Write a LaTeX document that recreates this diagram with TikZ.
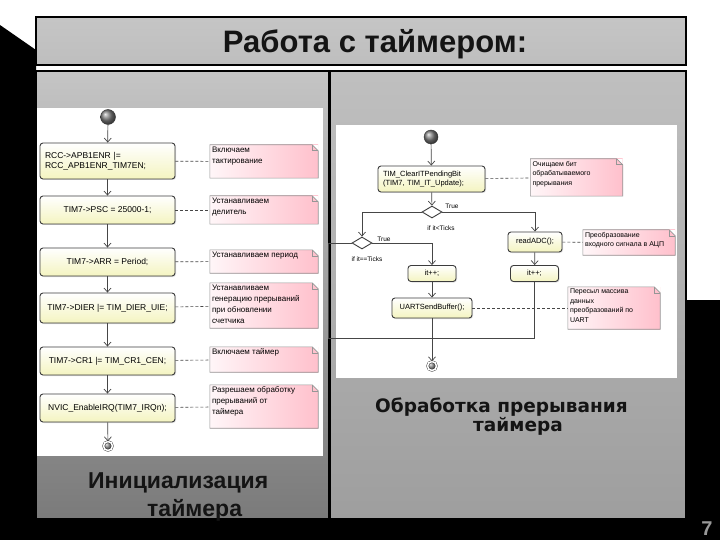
\documentclass[tikz,border=0pt]{standalone}
\usepackage{fontspec}
\setmainfont{Liberation Sans}
\newfontfamily\capfont{DejaVu Sans}
\usepackage{tikz}
\usetikzlibrary{positioning, shapes.geometric, arrows.meta, shadows}
\definecolor{boxline}{RGB}{60,60,60}
\definecolor{boxyellow}{RGB}{244,244,192}
\definecolor{notepink}{RGB}{255,192,204}
\definecolor{notelight}{RGB}{255,246,248}
\definecolor{noteline}{RGB}{150,150,150}
\definecolor{flowgray}{RGB}{70,70,70}
\definecolor{titlegray}{RGB}{200,200,200}
\definecolor{captext}{RGB}{20,20,20}

\begin{document}
\begin{tikzpicture}[
    x=1pt, y=-1pt,
    frame/.style={draw=black, line width=2.2pt},
    box/.style={rectangle, rounded corners=3pt, draw=boxline, line width=0.9pt, top color=white, bottom color=boxyellow, inner xsep=5pt, inner ysep=2pt, font=\fontsize{8.5}{10}\selectfont, drop shadow={shadow xshift=1pt, shadow yshift=-1pt, opacity=0.25}},
    smallbox/.style={box, font=\fontsize{7.5}{9}\selectfont},
    lnote/.style={rectangle, left color=notelight, right color=notepink, inner sep=2pt, font=\fontsize{8}{11}\selectfont,
        execute at begin node={\begin{minipage}[c][#1][t]{104pt}\raggedright}, execute at end node={\end{minipage}}},
    rnote/.style={rectangle, left color=notelight, right color=notepink, inner sep=2pt, font=\fontsize{7}{9.5}\selectfont,
        execute at begin node={\begin{minipage}[c][#1][t]{88pt}\raggedright}, execute at end node={\end{minipage}}},
    startdot/.style={circle, minimum size=15pt, inner sep=0pt, ball color=black!50, draw=black!80},
    enddot/.style={circle, minimum size=9pt, inner sep=0pt, ball color=black!50, draw=black!80, double=white, double distance=1.6pt},
    decision/.style={diamond, draw=boxline, line width=0.9pt, fill=white, minimum width=20pt, minimum height=12pt, inner sep=0pt},
    flow/.style={draw=flowgray, line width=0.7pt, -{Straight Barb[length=4pt, width=7pt]}},
    wire/.style={draw=flowgray, line width=0.7pt},
    link/.style={draw=flowgray, line width=0.6pt, dash pattern=on 3pt off 2pt},
    guard/.style={font=\fontsize{6.5}{8}\selectfont, inner sep=0pt},
    caption/.style={text=captext, inner sep=0pt, align=left}
]
    \useasboundingbox (0,0) rectangle (720,540);
    \fill[white] (0,0) rectangle (720,540);

    % Slide background and frames
    \fill[black] (0,25) -- (36,50) -- (36,519) -- (686,519) -- (686,300) -- (720,300) -- (720,540) -- (0,540) -- cycle;
    \draw[frame, top color=titlegray!105, bottom color=titlegray!95!black] (36,17) rectangle (686,65);
    \draw[frame, top color=black!23, bottom color=black!52] (36,71) rectangle (329,519);
    \draw[frame, top color=black!25, bottom color=black!38] (330,71) rectangle (686,519);
    \fill[white] (37,108) rectangle (323,456);
    \fill[white] (336,125) rectangle (677,378);

    \node[anchor=base, text=captext, font=\bfseries\fontsize{31}{36}\selectfont] (title) at (375,53) {Работа с таймером:};

    % Timer initialisation
    \node[startdot] (lstart) at (108,117) {};
    \node[box, text width=125pt, align=left, minimum height=36pt] (rcc) at (107.5,161) {RCC->APB1ENR |=\\RCC\_APB1ENR\_TIM7EN;};
    \node[box, minimum width=135pt, minimum height=28pt] (psc) at (107.5,210) {TIM7->PSC = 25000-1;};
    \node[box, minimum width=135pt, minimum height=28pt] (arr) at (107.5,262) {TIM7->ARR = Period;};
    \node[box, minimum width=135pt, minimum height=30pt] (dier) at (107.5,308) {TIM7->DIER |= TIM\_DIER\_UIE;};
    \node[box, minimum width=135pt, minimum height=28pt] (cr1) at (107.5,361) {TIM7->CR1 |= TIM\_CR1\_CEN;};
    \node[box, minimum width=135pt, minimum height=28pt] (nvic) at (107.5,408) {NVIC\_EnableIRQ(TIM7\_IRQn);};
    \node[enddot] (lend) at (108,446) {};

    \node[lnote=29pt] (nrcc) at (264,161.5) {Включаем\\тактирование};
    \node[lnote=24pt] (npsc) at (264,210) {Устанавливаем\\делитель};
    \node[lnote=19pt] (narr) at (264,261.5) {Устанавливаем период};
    \node[lnote=41pt] (ndier) at (264,305.5) {Устанавливаем\\генерацию прерываний\\при обновлении\\счетчика};
    \node[lnote=21pt] (ncr1) at (264,359.5) {Включаем таймер};
    \node[lnote=39pt] (nnvic) at (264,406.5) {Разрешаем обработку\\прерываний от\\таймера};

    \foreach \a/\b in {lstart/rcc, rcc/psc, psc/arr, arr/dier, dier/cr1, cr1/nvic, nvic/lend}
        \draw[flow] (\a) -- (\b);
    \foreach \a/\b in {rcc/nrcc, psc/npsc, arr/narr, dier/ndier, cr1/ncr1, nvic/nnvic}
        \draw[link] (\a) -- (\b);

    % Interrupt handler
    \node[startdot, minimum size=14pt] (rstart) at (431,137) {};
    \node[smallbox, text width=97pt, align=left, minimum height=26pt] (clear) at (431.5,179) {TIM\_ClearITPendingBit\\(TIM7, TIM\_IT\_Update);};
    \node[rnote=33pt] (nclear) at (576.5,177.5) {Очищаем бит\\обрабатываемого\\прерывания};
    \node[decision] (ifa) at (432,212) {};
    \node[decision] (ifb) at (362,243) {};
    \node[smallbox, minimum width=54pt, minimum height=20pt] (adc) at (535,242) {readADC();};
    \node[rnote=21pt] (nadc) at (629,242.5) {Преобразование\\входного сигнала в АЦП};
    \node[smallbox, minimum width=48pt, minimum height=16pt] (incl) at (432,273.5) {it++;};
    \node[smallbox, minimum width=48pt, minimum height=16pt] (incr) at (534.5,273.5) {it++;};
    \node[smallbox, minimum width=80pt, minimum height=20pt] (send) at (432,308) {UARTSendBuffer();};
    \node[rnote=38pt] (nsend) at (614,308) {Пересыл массива\\данных\\преобразований по\\UART};
    \node[enddot] (rend) at (432,366) {};
    \coordinate (merge) at (432,338);

    \node[guard] (truea) at (452,206) {True};
    \node[guard] (guarda) at (441,228) {if it<Ticks};
    \node[guard] (trueb) at (384,239) {True};
    \node[guard] (guardb) at (367,259) {if it==Ticks};

    \draw[flow] (rstart) -- (clear);
    \draw[flow] (clear) -- (ifa);
    \draw[flow] (ifa.east) -| (adc.north);
    \draw[flow] (ifa.west) -| (ifb.north);
    \draw[flow] (ifb.east) -| (incl.north);
    \draw[flow] (adc) -- (incr);
    \draw[flow] (incl) -- (send);
    \draw[wire] (ifb.west) -- ++(-23,0) |- (merge);
    \draw[wire] (incr.south) |- (merge);
    \draw[wire] (send) -- (merge);
    \draw[flow] (merge) -- (rend);
    \draw[link] (clear) -- (nclear);
    \draw[link] (adc) -- (nadc);
    \draw[link] (send) -- (nsend);

    % Folded note corners
    \foreach \n in {nrcc, npsc, narr, ndier, ncr1, nnvic, nclear, nadc, nsend} {
        \fill[white] ([xshift=-6pt]\n.north east) -- (\n.north east) -- ([yshift=-6pt]\n.north east) -- cycle;
        \draw[noteline, line width=0.6pt] (\n.north west) -- ([xshift=-6pt]\n.north east) -- ([yshift=-6pt]\n.north east) -- (\n.south east) -- (\n.south west) -- cycle;
        \draw[noteline, line width=0.6pt] ([xshift=-6pt]\n.north east) -- ([xshift=-6pt,yshift=-6pt]\n.north east) -- ([yshift=-6pt]\n.north east);
    }

    % Captions
    \node[caption, anchor=north west, font=\bfseries\fontsize{23}{28}\selectfont] (initcap) at (88,472) {Инициализация\\\hspace*{59pt}таймера};
    \node[caption, anchor=north west, font=\capfont\bfseries\fontsize{18.5}{19}\selectfont] (irqcap) at (375,398) {Обработка прерывания\\\hspace*{98pt}таймера};
    \node[anchor=base, text=black!40, font=\bfseries\fontsize{20}{20}\selectfont] (pageno) at (707,535) {7};
\end{tikzpicture}
\end{document}
